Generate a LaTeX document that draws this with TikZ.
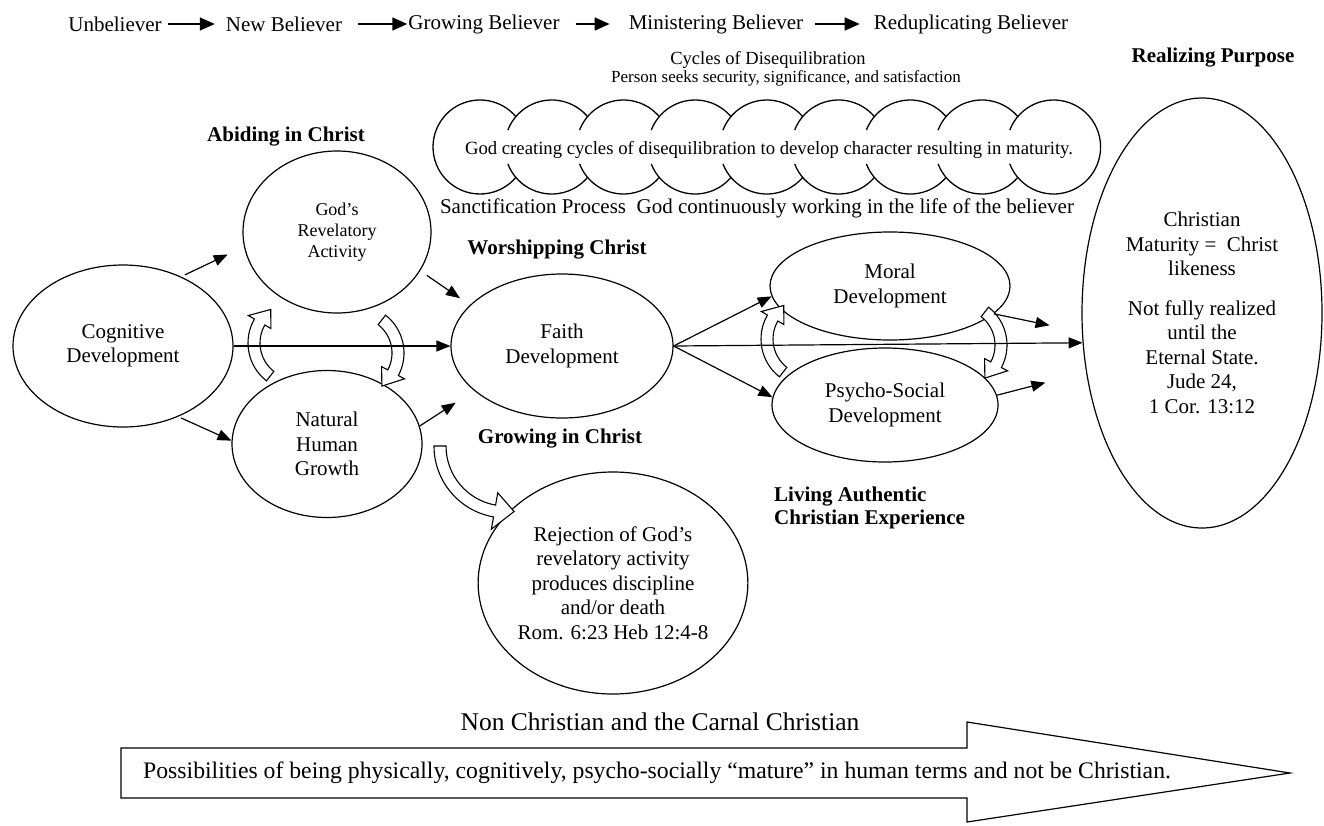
\documentclass[tikz,border=0pt]{standalone}
\usepackage{fontspec}
\setmainfont{Liberation Serif}
\usetikzlibrary{arrows.meta,calc,shapes.geometric}
\newcommand{\hollowcurve}[8]{%
  \pgfmathsetmacro\hcRo{#3+#7}%
  \pgfmathsetmacro\hcRi{#3-#7}%
  \pgfmathsetmacro\hcHo{#3+#8}%
  \pgfmathsetmacro\hcHi{#3-#8}%
  \draw[harrow] ($(#1,#2)+(#4:\hcRo)$)
    arc[start angle=#4, end angle=#5, radius=\hcRo]
    -- ($(#1,#2)+(#5:\hcHo)$)
    -- ($(#1,#2)+(#6:#3)$)
    -- ($(#1,#2)+(#5:\hcHi)$)
    -- ($(#1,#2)+(#5:\hcRi)$)
    arc[start angle=#5, end angle=#4, radius=\hcRi]
    -- cycle;}
\begin{document}
\begin{tikzpicture}[x=1pt,y=-1pt,
  ell/.style={draw, ellipse, line width=1.2pt, inner sep=0pt, align=center, font=\fontsize{21}{24.5}\selectfont},
  arr/.style={line width=1.2pt, -{Triangle[length=14pt,width=11pt]}},
  toparr/.style={line width=1.5pt, -{Triangle[length=15pt,width=13pt]}},
  txt/.style={font=\fontsize{21}{24.5}\selectfont, inner sep=0pt},
  btxt/.style={font=\fontsize{21}{23}\selectfont\bfseries, inner sep=0pt},
  harrow/.style={draw, line width=1.1pt, line join=miter, fill=white},
  cloudline/.style={line width=1.3pt}
]
\useasboundingbox[fill=white] (0,0) rectangle (1324,825);

% top line
\node[txt] (unb) at (115,24) {Unbeliever};
\node[txt] (nb) at (284,24) {New Believer};
\node[txt] (gb) at (484,24) {Growing Believer};
\node[txt] (mb) at (716,24) {Ministering Believer};
\node[txt] (rb) at (971,24) {Reduplicating Believer};
\draw[toparr, shorten <=6pt, shorten >=11pt] (unb.east) -- (nb.west);
\draw[toparr, shorten <=16pt, shorten >=1pt] (nb.east) -- (gb.west);
\draw[toparr, shorten <=16pt, shorten >=19pt] (gb.east) -- (mb.west);
\draw[toparr, shorten <=12pt, shorten >=14pt] (mb.east) -- (rb.west);

% titles
\node[font=\fontsize{18.5}{22}\selectfont, inner sep=0pt] (cyc) at (768,60) {Cycles of Disequilibration};
\node[font=\fontsize{17}{20}\selectfont, inner sep=0pt] (pers) at (786,78) {Person seeks security, significance, and satisfaction};
\node[btxt] (realp) at (1213,58) {Realizing Purpose};
\node[btxt] (abid) at (286,137) {Abiding in Christ};

% cloud
\draw[cloudline] (480,147) ++(40:47) arc[start angle=40,end angle=320,radius=47];
\foreach \i in {1,...,7}{
  \draw[cloudline] ({480+71.7*\i},147) ++(201:47) arc[start angle=201,end angle=320,radius=47];
  \draw[cloudline] ({480+71.7*\i},147) ++(159:47) arc[start angle=159,end angle=40,radius=47];
}
\draw[cloudline] ({480+71.7*8},147) ++(201:47) arc[start angle=201,end angle=519,radius=47];
\node[font=\fontsize{18.7}{22}\selectfont, inner sep=0pt] (cloudtxt) at (769,150) {God creating cycles of disequilibration to develop character resulting in maturity.};

\node[txt] (sanct) at (757,208) {Sanctification Process\ \ God continuously working in the life of the believer};

% ellipses
\node[ell, minimum width=220pt, minimum height=162pt] (cog) at (123,346) {Cognitive\\Development};
\node[ell, minimum width=188pt, minimum height=162pt, font=\fontsize{18}{21}\selectfont] (god) at (337,232) {God’s\\Revelatory\\Activity};
\node[ell, minimum width=190pt, minimum height=147pt] (nat) at (327,444) {Natural\\Human\\Growth};
\node[ell, minimum width=222pt, minimum height=144pt] (faith) at (562,346) {Faith\\Development};
\node[ell, minimum width=240pt, minimum height=108pt] (moral) at (890,286) {Moral\\Development};
\node[ell, minimum width=226pt, minimum height=114pt] (psy) at (885,405) {Psycho-Social\\Development};
\node[ell, minimum width=240pt, minimum height=430pt] (real) at (1202,313) {Christian\\Maturity =\ \ Christ\\likeness\\[15pt]Not fully realized\\until the\\Eternal State.\\Jude 24,\\1 Cor. 13:12};
\node[ell, minimum width=250pt, minimum height=222pt] (rej) at (613,583) {Rejection of God’s\\revelatory activity\\produces discipline\\and/or death\\Rom. 6:23 Heb 12:4-8};

% labels
\node[btxt] (worsh) at (557,250) {Worshipping Christ};
\node[btxt] (grow) at (560,439) {Growing in Christ};
\node[btxt, align=left, anchor=west] (living) at (774,508) {Living Authentic\\Christian Experience};

% hollow curved arrows
\hollowcurve{296}{343}{42}{128}{210}{233}{6}{13}
\hollowcurve{356}{353}{42}{-52}{28}{52}{6}{13}
\hollowcurve{809}{339}{42}{128}{210}{233}{6}{13}
\hollowcurve{959}{345}{42}{-52}{28}{52}{6}{13}
\hollowcurve{506}{446}{66}{180}{100}{83}{6}{18.5}

% connectors
\draw[arr, shorten <=4pt, shorten >=18pt] (cog.50) -- (god.189);
\draw[arr, shorten <=3pt] (cog.-52) -- (nat.178);
\draw[arr] (cog.east) -- (faith.west);
\draw[arr, shorten <=8pt, shorten >=12pt] (god.-25) -- (faith.156);
\draw[arr, shorten >=22pt] (nat.11) -- (faith.207);
\draw[arr] (faith.east) -- (moral.185);
\draw[arr] (faith.east) -- (psy.176);
\draw[arr] (faith.east) -- (real.194);
\draw[arr, shorten >=33pt] (moral.-15) -- (real.189);
\draw[arr, shorten >=42pt] (psy.5) -- (real.207);

% bottom arrow
\node[font=\fontsize{25.5}{29}\selectfont, inner sep=0pt] (nonc) at (660,722) {Non Christian and the Carnal Christian};
\draw[line width=1.2pt] (121,748) -- (967,748) -- (967,722) -- (1290,773) -- (967,822) -- (967,798) -- (121,798) -- cycle;
\node[font=\fontsize{23.7}{27}\selectfont, inner sep=0pt, anchor=west] (poss) at (143,773) {Possibilities of being physically, cognitively, psycho-socially “mature” in human terms and not be Christian.};
\end{tikzpicture}
\end{document}
